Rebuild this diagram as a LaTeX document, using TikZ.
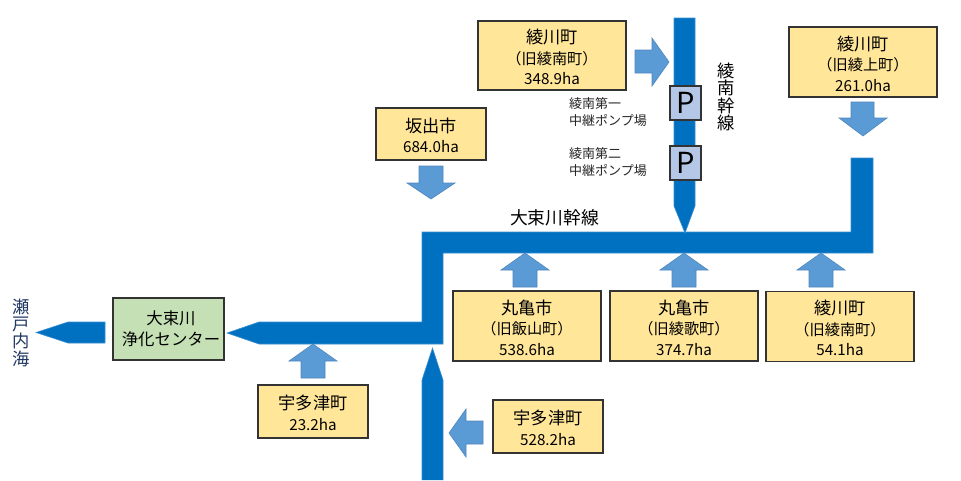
\documentclass[tikz,border=0pt]{standalone}
\usepackage{fontspec}
\setmainfont{Noto Sans CJK JP}
\newcommand{\lgT}{\fontsize{17.2}{20.5}\selectfont}
\newcommand{\mdT}{\fontsize{15.2}{20.5}\selectfont}
\newcommand{\smT}{\fontsize{13}{17}\selectfont}
\newcommand{\headline}[1]{{\lgT\raisebox{0pt}[\dimexpr\height+3pt\relax]{#1}}}
\definecolor{boxfill}{HTML}{FFE699}
\definecolor{plantfill}{HTML}{C5E0B4}
\definecolor{pumpfill}{HTML}{B4C7E7}
\definecolor{pipeblue}{HTML}{0070C0}
\definecolor{pipeedge}{HTML}{3A8FD0}
\definecolor{inflow}{HTML}{5B9BD5}
\definecolor{inflowedge}{HTML}{4F87BC}
\definecolor{seablue}{HTML}{1F3864}
\tikzset{
  areabox/.style={draw=black!80,line width=1.1pt,fill=boxfill,align=center,inner sep=0pt,text=black,font=\mdT},
  plantbox/.style={areabox,fill=plantfill,font=\fontsize{16.4}{21.5}\selectfont},
  pumpbox/.style={draw=black!80,line width=1.1pt,fill=pumpfill,inner sep=0pt,minimum width=31pt,minimum height=34pt,font=\fontsize{29}{29}\selectfont},
  pipe/.style={fill=pipeblue,draw=pipeedge,line width=.6pt},
  inarrow/.style={fill=inflow,draw=inflowedge,line width=.6pt},
  caption/.style={inner sep=0pt,align=left,anchor=west,font=\smT,text=black!85},
  vertlabel/.style={inner sep=0pt,align=center,font=\fontsize{17.3}{17.3}\selectfont}
}
\begin{document}
\begin{tikzpicture}[x=1pt,y=-1pt]
\useasboundingbox (0,0) rectangle (961,480);
% pipes
\draw[pipe] (851,158) -- (873,158) -- (873,253) -- (443,253) -- (443,344) -- (259,344) -- (227,333) -- (259,322) -- (422,322) -- (422,232) -- (851,232) -- cycle;
\draw[pipe] (674,18) -- (695,18) -- (695,206) -- (685,233) -- (674,206) -- cycle;
\draw[pipe] (422,480) -- (422,380) -- (432.5,348) -- (443,380) -- (443,480);
\draw[pipe] (105,322) -- (105,343) -- (68,343) -- (36,332.5) -- (68,322) -- cycle;
% inflow arrows
\draw[inarrow] (635,50) -- (652,50) -- (652,38) -- (669,62) -- (652,86) -- (652,73) -- (635,73) -- cycle;
\draw[inarrow] (851,102) -- (874,102) -- (874,118) -- (887,118) -- (863,136) -- (839,118) -- (851,118) -- cycle;
\draw[inarrow] (419,166) -- (443,166) -- (443,183) -- (455,183) -- (431,199) -- (407,183) -- (419,183) -- cycle;
\draw[inarrow] (513,287) -- (537,287) -- (537,270) -- (549,270) -- (525,253) -- (501,270) -- (513,270) -- cycle;
\draw[inarrow] (672,287) -- (696,287) -- (696,270) -- (708,270) -- (684,253) -- (660,270) -- (672,270) -- cycle;
\draw[inarrow] (809,287) -- (833,287) -- (833,270) -- (845,270) -- (821,253) -- (797,270) -- (809,270) -- cycle;
\draw[inarrow] (301,378) -- (325,378) -- (325,361) -- (337,361) -- (313,344) -- (289,361) -- (301,361) -- cycle;
\draw[inarrow] (483,421) -- (466,421) -- (466,409) -- (449,433) -- (466,457) -- (466,444) -- (483,444) -- cycle;
% area boxes
\node[areabox,minimum width=148pt,minimum height=69pt] (ayanan) at (552,55.5) {\headline{綾川町}\\（旧綾南町）\\348.9ha};
\node[areabox,minimum width=148pt,minimum height=70pt] (ayakami) at (863,62) {\headline{綾川町}\\（旧綾上町）\\261.0ha};
\node[areabox,minimum width=110pt,minimum height=52pt] (sakaide) at (431,134) {\headline{坂出市}\\684.0ha};
\node[areabox,minimum width=148pt,minimum height=70pt] (hanzan) at (527,326) {\headline{丸亀市}\\（旧飯山町）\\538.6ha};
\node[areabox,minimum width=148pt,minimum height=70pt] (ayauta) at (684,326) {\headline{丸亀市}\\（旧綾歌町）\\374.7ha};
\node[areabox,minimum width=148pt,minimum height=70pt] (ayanan2) at (840,326.5) {\headline{綾川町}\\（旧綾南町）\\54.1ha};
\node[areabox,minimum width=110pt,minimum height=53pt] (utazu1) at (548,426.5) {\headline{宇多津町}\\528.2ha};
\node[areabox,minimum width=110pt,minimum height=53pt] (utazu2) at (313,411.5) {\headline{宇多津町}\\23.2ha};
\node[plantbox,minimum width=111pt,minimum height=62pt] (plant) at (168.5,329) {\hspace*{5pt}大束川\\\hspace*{5pt}浄化センター};
% pumps
\node[pumpbox] (p1) at (685.5,103) {P};
\node[pumpbox] (p2) at (685.5,163) {P};
% labels
\node[caption] (c1) at (569,112) {綾南第一\\中継ポンプ場};
\node[caption] (c2) at (569,162) {綾南第二\\中継ポンプ場};
\node[inner sep=0pt,font=\fontsize{17.8}{17.8}\selectfont] (daitoka) at (554.5,218) {大束川幹線};
\node[vertlabel] (ayananline) at (726,97) {綾\\南\\幹\\線};
\node[vertlabel,text=seablue] (sea) at (21,332.5) {瀬\\戸\\内\\海};
\end{tikzpicture}
\end{document}
